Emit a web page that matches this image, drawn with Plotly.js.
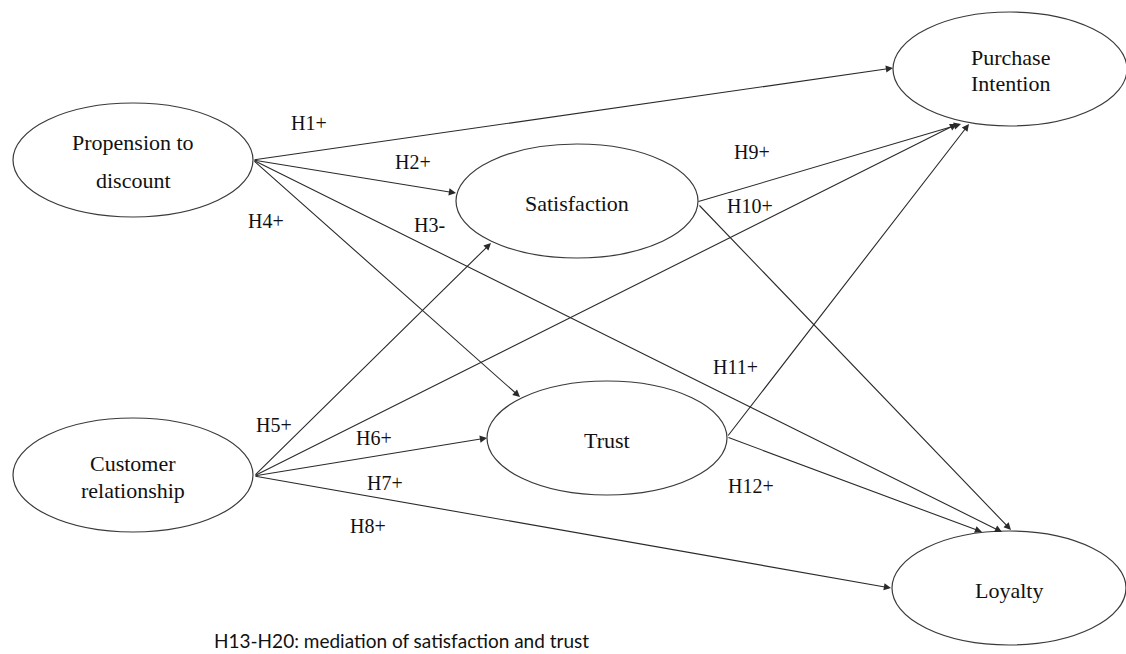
<!DOCTYPE html>
<html>
<head>
<meta charset="utf-8">
<script src="https://cdn.plot.ly/plotly-3.0.1.min.js"></script>
<style>html,body{margin:0;padding:0;background:#fff;}#chart{width:1126px;height:654px;}</style>
</head>
<body>
<div id="chart"></div>
<script>
// ---- Data ----
var nodeNames = ["Propension to discount", "Satisfaction", "Purchase Intention", "Customer relationship", "Trust", "Loyalty"];
var nodeLines = [["Propension to", "discount"], ["Satisfaction"], ["Purchase", "Intention"], ["Customer", "relationship"], ["Trust"], ["Loyalty"]];
var edgeFrom = ["Propension to discount", "Propension to discount", "Propension to discount", "Propension to discount",
                "Customer relationship", "Customer relationship", "Customer relationship", "Customer relationship",
                "Satisfaction", "Satisfaction", "Trust", "Trust"];
var edgeTo = ["Purchase Intention", "Satisfaction", "Trust", "Loyalty",
              "Satisfaction", "Trust", "Purchase Intention", "Loyalty",
              "Purchase Intention", "Loyalty", "Purchase Intention", "Loyalty"];
var hypLabels = ["H1+", "H2+", "H4+", "H3-", "H9+", "H10+", "H5+", "H6+", "H7+", "H8+", "H11+", "H12+"];
var footnote = "H13-H20: mediation of satisfaction and trust";

// ---- Layout geometry (pixels, y down) ----
var nodeGeom = {
  "Propension to discount": {cx: 133, cy: 160, rx: 120, ry: 57, ty: [142, 180]},
  "Satisfaction": {cx: 577, cy: 201, rx: 121, ry: 57, ty: [203]},
  "Purchase Intention": {cx: 1010, cy: 69, rx: 117, ry: 57, ty: [57, 83]},
  "Customer relationship": {cx: 133, cy: 475, rx: 120, ry: 57, ty: [463, 490]},
  "Trust": {cx: 607, cy: 438, rx: 120, ry: 57, ty: [440]},
  "Loyalty": {cx: 1009, cy: 588, rx: 117, ry: 57, ty: [590]}
};
var edgeStart = [[253,160],[253,160],[253,160],[253,160],[254,476],[254,476],[254,476],[254,476],[697,202],[698,204],[727,437],[727,437]];
var edgeEnd = [[893,68],[456,193],[520,397],[1002,532],[491,243],[487,438],[957,124],[891,588],[961,124],[1011,530],[969,124],[982,532]];
var labelPos = [[309,123],[413,162],[266,221],[429,225],[752,152],[750,206],[274,425],[374,438],[385,483],[368,526],[735,367],[751,486]];

var serif = "'Liberation Serif', 'Times New Roman', 'DejaVu Serif', serif";
var lineColor = "#2a2a2a";
var shapes = [];
var annotations = [];

nodeNames.forEach(function(n, i) {
  var g = nodeGeom[n];
  shapes.push({type: "circle", xref: "x", yref: "y", x0: g.cx - g.rx, x1: g.cx + g.rx, y0: g.cy - g.ry, y1: g.cy + g.ry,
               line: {color: "#3a3a3a", width: 1.2}, fillcolor: "rgba(0,0,0,0)", layer: "above"});
  nodeLines[i].forEach(function(t, k) {
    annotations.push({x: g.cx, y: g.ty[k], xref: "x", yref: "y", text: t, showarrow: false,
                      xanchor: "center", yanchor: "middle", font: {family: serif, size: 22, color: "#111"}});
  });
});

edgeFrom.forEach(function(f, i) {
  annotations.push({x: edgeEnd[i][0], y: edgeEnd[i][1], ax: edgeStart[i][0], ay: edgeStart[i][1],
                    xref: "x", yref: "y", axref: "x", ayref: "y", text: "", showarrow: true,
                    arrowhead: 2, arrowsize: 1.3, arrowwidth: 1.1, arrowcolor: lineColor, standoff: 0, startstandoff: 0});
});

hypLabels.forEach(function(t, i) {
  annotations.push({x: labelPos[i][0], y: labelPos[i][1], xref: "x", yref: "y", text: t, showarrow: false,
                    xanchor: "center", yanchor: "middle", font: {family: serif, size: 20, color: "#111"}});
});

annotations.push({x: 213, y: 640, xref: "x", yref: "y", text: footnote, showarrow: false, borderpad: 0,
                  xanchor: "left", yanchor: "middle", font: {family: "Lato, 'Open Sans', sans-serif", size: 19, color: "#111"}});

var layout = {
  width: 1126, height: 654,
  margin: {l: 0, r: 0, t: 0, b: 0},
  paper_bgcolor: "#ffffff", plot_bgcolor: "#ffffff",
  showlegend: false,
  xaxis: {range: [0, 1126], visible: false, fixedrange: true},
  yaxis: {range: [654, 0], visible: false, fixedrange: true},
  shapes: shapes,
  annotations: annotations
};

Plotly.newPlot("chart", [{x: [], y: [], type: "scatter", mode: "markers", hoverinfo: "skip"}], layout, {staticPlot: true, displayModeBar: false});
</script>
</body>
</html>
